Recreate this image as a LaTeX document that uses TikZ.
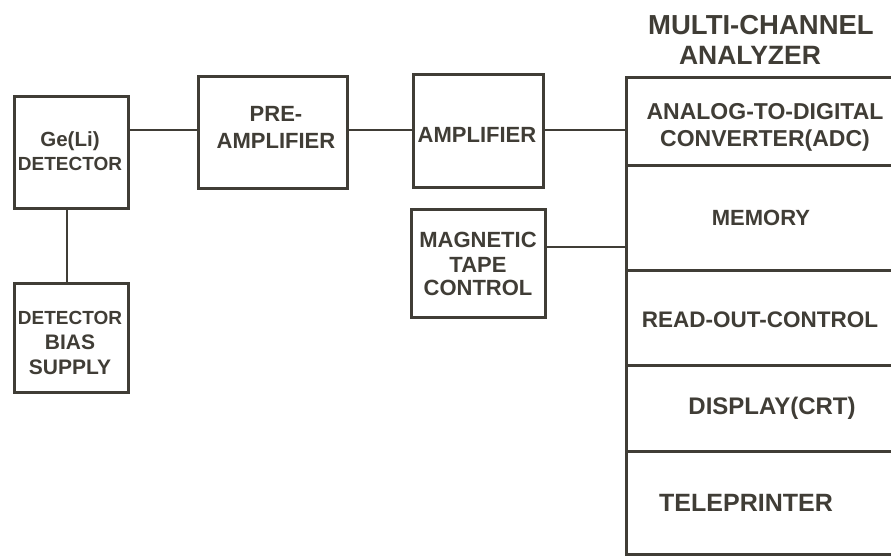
\documentclass[tikz,border=0pt]{standalone}
\usepackage{fontspec}
\setmainfont{Liberation Sans}
\definecolor{ink}{RGB}{64,61,54}
\newcommand{\px}[1]{\bfseries\fontsize{#1}{#1}\selectfont}
\begin{document}
\begin{tikzpicture}[x=1pt,y=-1pt,
  blk/.style={draw=ink, line width=2.8pt, rectangle, inner sep=0pt, anchor=north west},
  lbl/.style={text=ink, font=\px{22}, align=center, inner sep=0pt},
  wire/.style={draw=ink, line width=2.6pt}]
\useasboundingbox (0,0) rectangle (891,556);
\fill[white] (0,0) rectangle (891,556);
\clip (0,0) rectangle (891,556);

% front end chain
\node[blk, minimum width=114pt, minimum height=112pt] (det)  at (13,95)  {};
\node[blk, minimum width=114pt, minimum height=109pt] (bias) at (13,282) {};
\node[blk, minimum width=149pt, minimum height=112pt] (pre)  at (197,75) {};
\node[blk, minimum width=130pt, minimum height=113pt] (amp)  at (412,73) {};
\node[blk, minimum width=134pt, minimum height=108pt] (tape) at (410,208) {};

% multi-channel analyzer sections
\node[blk, minimum width=270pt, minimum height=88pt]  (adc)  at (625,76)  {};
\node[blk, minimum width=270pt, minimum height=105pt] (mem)  at (625,164) {};
\node[blk, minimum width=270pt, minimum height=95pt]  (roc)  at (625,269) {};
\node[blk, minimum width=270pt, minimum height=86pt]  (disp) at (625,364) {};
\node[blk, minimum width=270pt, minimum height=103pt] (tele) at (625,450) {};

% labels
\node[lbl, font=\px{20.5}] (detT) at (70,151)
  {Ge(Li)\\[4pt]{\fontsize{19}{19}\selectfont DETECTOR}};
\node[lbl, font=\px{21}] (biasT) at (70,343)
  {{\fontsize{19}{19}\selectfont DETECTOR}\\[4pt]BIAS\\[4pt]SUPPLY};
\node[lbl] (preT)  at (276,127) {PRE-\\[5pt]AMPLIFIER};
\node[lbl] (ampT)  at (477,135) {AMPLIFIER};
\node[lbl] (tapeT) at (478,264) {MAGNETIC\\[3pt]TAPE\\[1pt]CONTROL};
\node[lbl, font=\px{27.5}] (ttl1) at (761,25) {MULTI-CHANNEL};
\node[lbl, font=\px{26.5}] (ttl2) at (750,55) {ANALYZER};
\node[lbl, font=\px{23}] (adcT) at (765,127) {ANALOG-TO-DIGITAL\\[4pt]CONVERTER(ADC)};
\node[lbl] (memT)  at (761,218) {MEMORY};
\node[lbl, font=\px{22.5}] (rocT) at (760,320) {READ-OUT-CONTROL};
\node[lbl, font=\px{24}] (dispT) at (772,408) {DISPLAY(CRT)};
\node[lbl, font=\px{25}] (teleT) at (746,503) {TELEPRINTER};

% connections
\coordinate (sigY)  at (0,130);
\coordinate (tapeY) at (0,247);
\coordinate (biasX) at (67,0);
\draw[wire] (det.east |- sigY) -- (pre.west |- sigY);
\draw[wire] (pre.east |- sigY) -- (amp.west |- sigY);
\draw[wire] (amp.east |- sigY) -- (adc.west |- sigY);
\draw[wire] (tape.east |- tapeY) -- (mem.west |- tapeY);
\draw[wire] (det.south -| biasX) -- (bias.north -| biasX);
\end{tikzpicture}
\end{document}
